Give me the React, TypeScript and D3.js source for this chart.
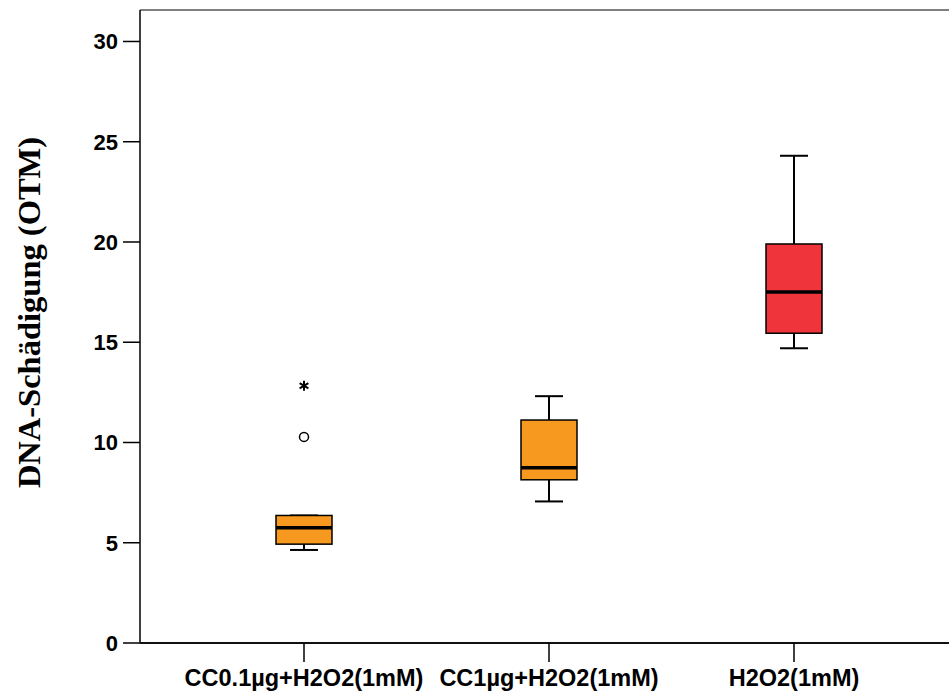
import React from "react";
import * as d3 from "d3";

// Treatment groups and their box-plot statistics (OTM)
const categories = ["CC0.1µg+H2O2(1mM)", "CC1µg+H2O2(1mM)", "H2O2(1mM)"];
const whiskerLow = [4.64, 7.06, 14.7];
const q1 = [4.93, 8.14, 15.45];
const median = [5.75, 8.74, 17.5];
const q3 = [6.36, 11.12, 19.9];
const whiskerHigh = [6.36, 12.31, 24.3];
const outliers = [[10.28], [], []];
const extremes = [[12.83], [], []];
const fills = ["#F7991F", "#F7991F", "#EF343B"];
const yTicks = [0, 5, 10, 15, 20, 25, 30];

const W = 949;
const H = 693;
const left = 140;
const top = 10;
const bottom = 643;

export default function App() {
  const y = d3.scaleLinear().domain([0, 31.57]).range([bottom, top]);
  const x = d3.scalePoint<string>().domain(categories).range([304, 794]);
  const boxW = 56;
  const capW = 28;
  const star = d3.symbol(d3.symbolAsterisk, 72)() as string;

  return (
    <svg width={W} height={H} style={{ position: "absolute", left: 0, top: 0, background: "#fff" }}>
      {/* frame */}
      <line x1={left} x2={W} y1={top} y2={top} stroke="#555" strokeWidth={1.5} />
      <line x1={left} x2={left} y1={top} y2={bottom} stroke="#000" strokeWidth={1.5} />
      <line x1={left} x2={W} y1={bottom} y2={bottom} stroke="#111" strokeWidth={2} />

      {/* y axis */}
      {yTicks.map((t) => (
        <g key={t}>
          <line x1={left - 17} x2={left} y1={y(t)} y2={y(t)} stroke="#000" strokeWidth={1.5} />
          <text
            x={118}
            y={y(t)}
            dy="0.36em"
            textAnchor="end"
            fontFamily="'Liberation Sans', Arial, sans-serif"
            fontWeight="bold"
            fontSize={22}
          >
            {t}
          </text>
        </g>
      ))}
      <text
        transform={`translate(40, ${(133 + 492) / 2}) rotate(-90)`}
        textAnchor="middle"
        fontFamily="'Liberation Serif', 'Times New Roman', serif"
        fontWeight="bold"
        fontSize={32.5}
      >
        DNA-Schädigung (OTM)
      </text>

      {/* x axis */}
      {categories.map((c) => (
        <g key={c}>
          <line x1={x(c)} x2={x(c)} y1={bottom} y2={662} stroke="#000" strokeWidth={1.5} />
          <text
            x={x(c)}
            y={686}
            textAnchor="middle"
            fontFamily="'Liberation Sans', Arial, sans-serif"
            fontWeight="bold"
            fontSize={23.5}
          >
            {c}
          </text>
        </g>
      ))}

      {/* boxes */}
      {categories.map((c, i) => {
        const cx = x(c) as number;
        return (
          <g key={c}>
            <line x1={cx} x2={cx} y1={y(whiskerHigh[i])} y2={y(q3[i])} stroke="#000" strokeWidth={2} />
            <line x1={cx} x2={cx} y1={y(q1[i])} y2={y(whiskerLow[i])} stroke="#000" strokeWidth={2} />
            <line x1={cx - capW / 2} x2={cx + capW / 2} y1={y(whiskerHigh[i])} y2={y(whiskerHigh[i])} stroke="#000" strokeWidth={2} />
            <line x1={cx - capW / 2} x2={cx + capW / 2} y1={y(whiskerLow[i])} y2={y(whiskerLow[i])} stroke="#000" strokeWidth={2} />
            <rect
              x={cx - boxW / 2}
              y={y(q3[i])}
              width={boxW}
              height={y(q1[i]) - y(q3[i])}
              fill={fills[i]}
              stroke="#000"
              strokeWidth={1.5}
            />
            <line x1={cx - boxW / 2} x2={cx + boxW / 2} y1={y(median[i])} y2={y(median[i])} stroke="#000" strokeWidth={3.5} />
            {outliers[i].map((v, k) => (
              <circle key={k} cx={cx} cy={y(v)} r={4.5} fill="#fff" stroke="#000" strokeWidth={1.5} />
            ))}
            {extremes[i].map((v, k) => (
              <path key={k} d={star} transform={`translate(${cx}, ${y(v)})`} fill="none" stroke="#000" strokeWidth={2} />
            ))}
          </g>
        );
      })}
    </svg>
  );
}
